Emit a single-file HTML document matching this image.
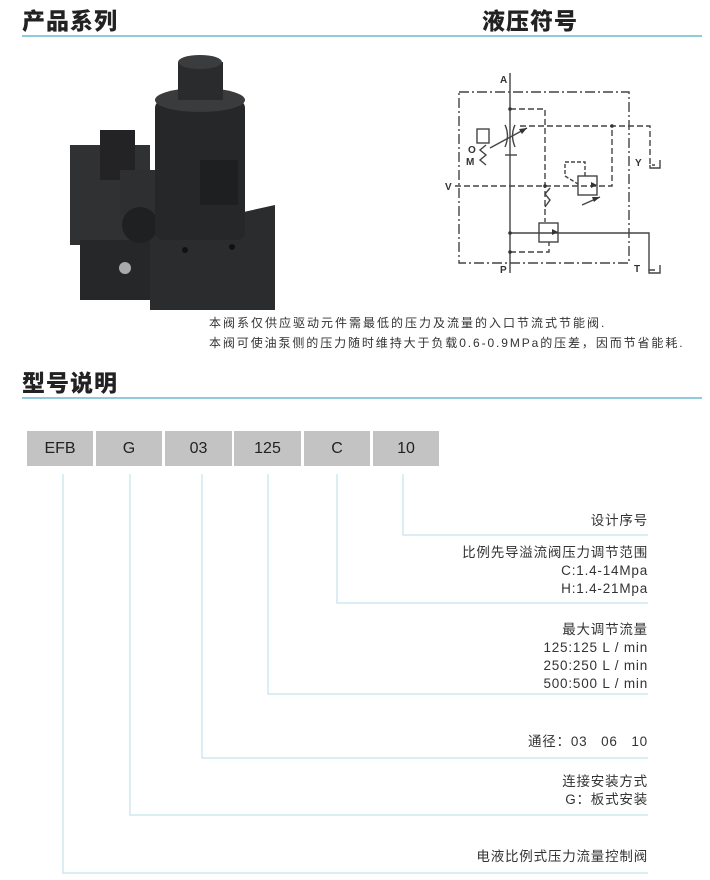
<!DOCTYPE html>
<html><head><meta charset="utf-8"><style>
body{margin:0;background:#fff;}
#c{position:relative;width:710px;height:880px;overflow:hidden;font-family:"Liberation Sans","Noto Sans CJK SC",sans-serif;color:#333;}
.h{position:absolute;font-size:23px;font-weight:900;color:#222;font-family:"Noto Sans CJK SC","WenQuanYi Zen Hei",sans-serif;letter-spacing:1px;}
.hl{position:absolute;height:2px;background:#8ecbdc;left:22px;width:680px;}
.box{position:absolute;top:431px;height:35px;background:#c3c3c3;font-size:16px;line-height:35px;text-align:center;color:#222;}
.t{position:absolute;right:62px;font-size:13.5px;text-align:right;color:#333;line-height:18px;letter-spacing:0.8px;}
.d{position:absolute;left:209px;font-size:12px;color:#333;letter-spacing:2px;}
</style></head><body><div id="c">
<div class="h" style="left:22px;top:2px">产品系列</div>
<div class="h" style="left:482px;top:2px">液压符号</div>
<div class="hl" style="top:35px"></div>
<div class="h" style="left:22px;top:364px">型号说明</div>
<div class="hl" style="top:397px"></div>

<svg style="position:absolute;left:0;top:0" width="710" height="880">
<g fill="#2b2c2e">
<rect x="150" y="215" width="125" height="95"/>
<polygon points="150,215 230,215 275,205 275,310 150,310"/>
<rect x="70" y="145" width="80" height="100" fill="#303133"/>
<rect x="80" y="240" width="70" height="60" fill="#262729"/>
<rect x="100" y="130" width="35" height="50" fill="#232325"/>
<rect x="120" y="170" width="45" height="45" fill="#2e2f31"/>
<circle cx="140" cy="225" r="18" fill="#1f2022"/>
<rect x="155" y="100" width="90" height="140" rx="8" fill="#262729"/>
<ellipse cx="200" cy="100" rx="45" ry="12" fill="#3a3b3d"/>
<rect x="178" y="62" width="45" height="38" fill="#2a2b2d"/>
<ellipse cx="200" cy="62" rx="22" ry="7" fill="#3b3c3e"/>
<rect x="200" y="160" width="38" height="45" fill="#1e1f21"/>
</g>
<circle cx="125" cy="268" r="6" fill="#aaa"/>
<circle cx="185" cy="250" r="3" fill="#111"/>
<circle cx="232" cy="247" r="3" fill="#111"/>

<g stroke="#444" stroke-width="1.4" fill="none">
<rect x="459" y="92" width="170" height="171" stroke-dasharray="10,3,2,3"/>
<line x1="510" y1="73" x2="510" y2="273"/>
<polyline points="510,109 545,109 545,222" stroke-dasharray="6,3"/>
<polyline points="520,126 650,126 650,165 655,165" stroke-dasharray="6,3"/>
<polyline points="455,186 612,186 612,126" stroke-dasharray="6,3"/>
<polyline points="510,233 649,233 649,270 655,270"/>
<polyline points="510,252 549,252 549,242" stroke-dasharray="6,3"/>
<rect x="539" y="223" width="19" height="19"/>
<rect x="578" y="176" width="19" height="19"/>
<polyline points="585,176 585,162 565,162 565,176 578,184" stroke-dasharray="4,2"/>
<rect x="477" y="129" width="12" height="14"/>
<polyline points="486,145 480,150 486,155 480,160 486,165"/>
<polyline points="545,207 550,200 545,194 550,188"/>
<path d="M505 125 Q510 135 505 147 M515 125 Q510 135 515 147"/>
<line x1="490" y1="148" x2="527" y2="128"/>
<line x1="505" y1="155" x2="517" y2="155"/>
<line x1="582" y1="205" x2="600" y2="197"/>
<polyline points="650,165 650,168 660,168 660,160"/>
<polyline points="649,270 649,273 660,273 660,265"/>
</g>
<g fill="#333"><polygon points="527,128 519,129 522,134"/><polygon points="600,197 592,197 594,202"/><polygon points="597,185 591,182 591,188"/><polygon points="558,232 552,229 552,235"/></g>
<g fill="#333" font-size="10" font-weight="bold" font-family="Liberation Sans">
<text x="500" y="83">A</text><text x="500" y="273">P</text>
<text x="468" y="153">O</text><text x="466" y="165">M</text>
<text x="445" y="190">V</text><text x="635" y="166">Y</text><text x="634" y="272">T</text>
</g>
<g fill="#333"><circle cx="510" cy="109" r="1.8"/><circle cx="612" cy="126" r="1.8"/><circle cx="545" cy="186" r="1.8"/><circle cx="510" cy="233" r="1.8"/><circle cx="510" cy="252" r="1.8"/></g>

<g stroke="#c5e3ec" stroke-width="1.2" fill="none">
<polyline points="403,474 403,535 648,535"/>
<polyline points="337,474 337,603 648,603"/>
<polyline points="268,474 268,694 648,694"/>
<polyline points="202,474 202,758 648,758"/>
<polyline points="130,474 130,815 648,815"/>
<polyline points="63,474 63,873 648,873"/>
</g>
</svg>

<div class="d" style="top:314px">本阀系仅供应驱动元件需最低的压力及流量的入口节流式节能阀.</div>
<div class="d" style="top:334px;letter-spacing:1.9px">本阀可使油泵侧的压力随时维持大于负载0.6-0.9MPa的压差，因而节省能耗.</div>

<div class="box" style="left:27px;width:66px">EFB</div>
<div class="box" style="left:96px;width:66px">G</div>
<div class="box" style="left:165px;width:67px">03</div>
<div class="box" style="left:234px;width:67px">125</div>
<div class="box" style="left:304px;width:66px">C</div>
<div class="box" style="left:373px;width:66px">10</div>

<div class="t" style="top:512px">设计序号</div>
<div class="t" style="top:544px">比例先导溢流阀压力调节范围<br>C:1.4-14Mpa<br>H:1.4-21Mpa</div>
<div class="t" style="top:621px">最大调节流量<br>125:125 L / min<br>250:250 L / min<br>500:500 L / min</div>
<div class="t" style="top:733px">通径：03&nbsp;&nbsp;&nbsp;06&nbsp;&nbsp;&nbsp;10</div>
<div class="t" style="top:773px">连接安装方式<br>G：板式安装</div>
<div class="t" style="top:848px">电液比例式压力流量控制阀</div>
</div></body></html>
